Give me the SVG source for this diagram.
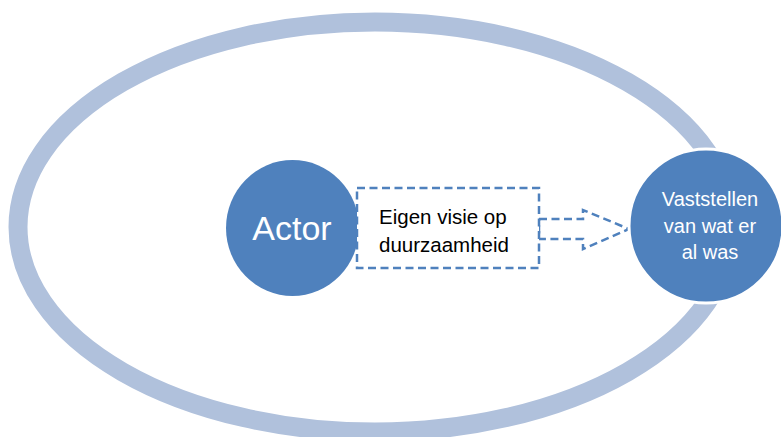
<svg xmlns="http://www.w3.org/2000/svg" width="781" height="437" viewBox="0 0 781 437">
<style>
.ring{fill:none;stroke:#B0C1DC;stroke-width:19}
.node{fill:#4F81BD}
.dash{fill:#FFFFFF;stroke:#4F81BD;stroke-width:2.5;stroke-dasharray:8 4.5}
.wt{fill:#FFFFFF;font-family:"Liberation Sans",Arial,sans-serif}
.bt{fill:#000000;font-family:"Liberation Sans",Arial,sans-serif;font-size:20.5px}
</style>
<rect width="781" height="437" fill="#FFFFFF"/>
<g id="cycle">
<ellipse class="ring" cx="375" cy="227" rx="357" ry="205"/>
</g>
<g id="actor">
<ellipse class="node" cx="292.5" cy="228" rx="66.5" ry="68"/>
<text class="wt" x="292" y="240" text-anchor="middle" font-size="34">Actor</text>
</g>
<g id="connectors">
<polygon class="dash" points="539,219 583,219 583,210 629,229 583,249 583,239 539,239"/>
</g>
<g id="visie">
<rect class="dash" x="357" y="188" width="182" height="80"/>
<text class="bt" x="379" y="224">Eigen visie op</text>
<text class="bt" x="379" y="252">duurzaamheid</text>
</g>
<g id="vaststellen">
<circle class="node" cx="706" cy="226" r="77" stroke="#FFFFFF" stroke-width="3"/>
<text class="wt" x="710" y="206" text-anchor="middle" font-size="20">Vaststellen</text>
<text class="wt" x="710" y="233" text-anchor="middle" font-size="20">van wat er</text>
<text class="wt" x="710" y="259" text-anchor="middle" font-size="20">al was</text>
</g>
</svg>
